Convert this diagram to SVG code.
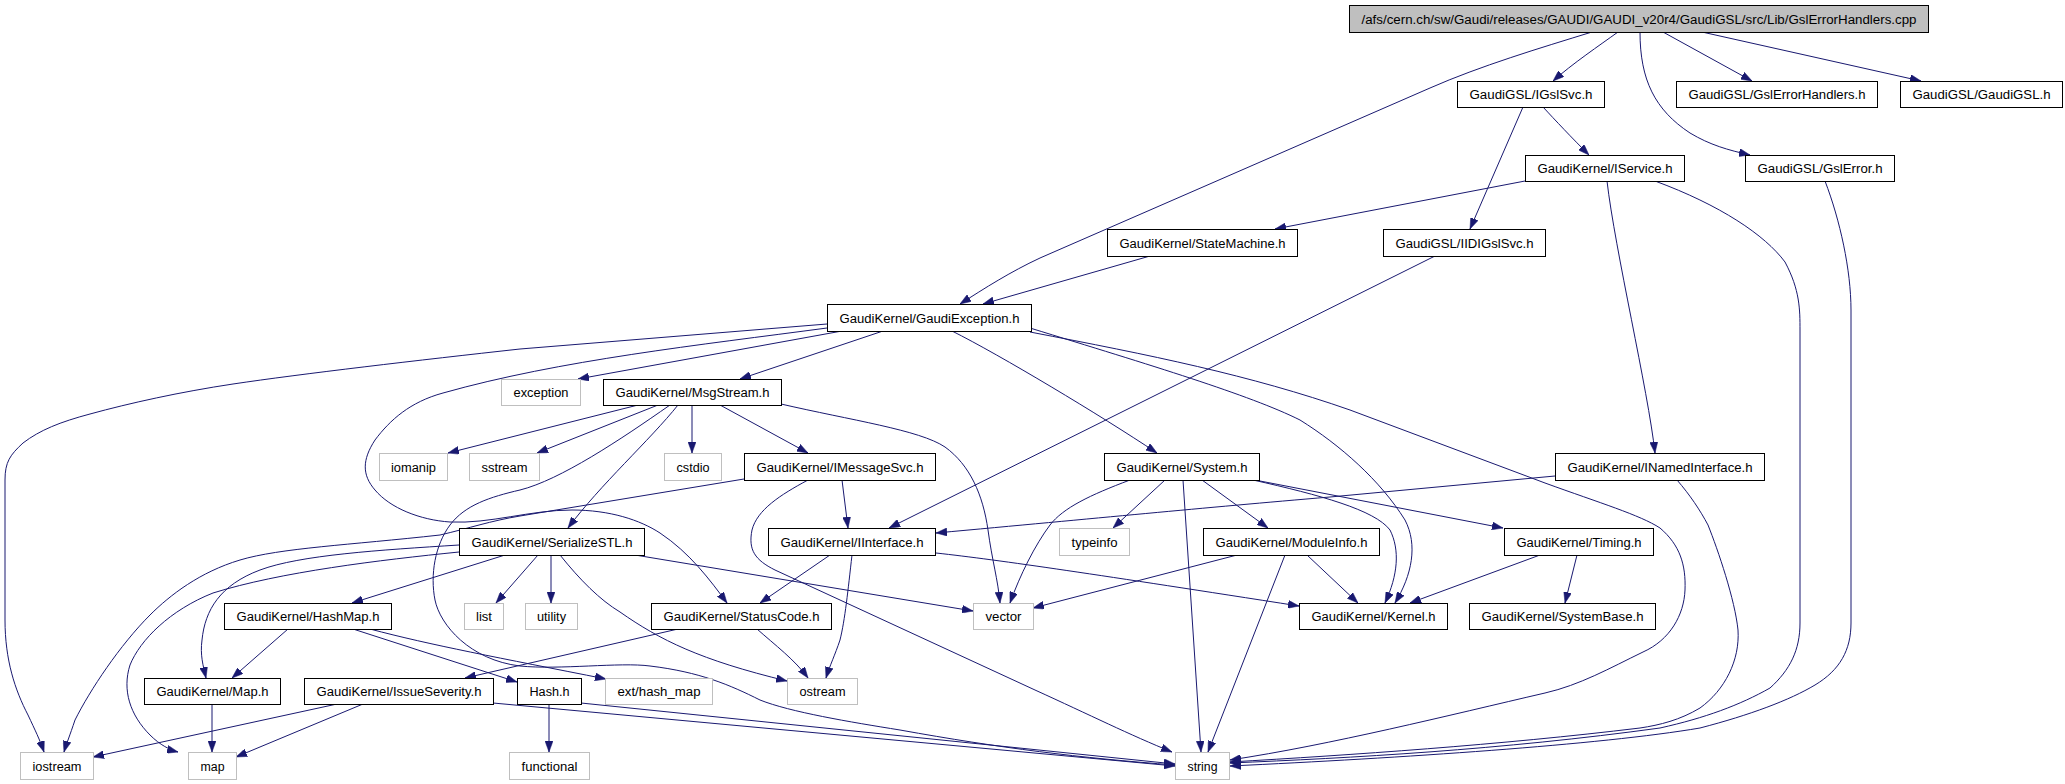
<svg xmlns="http://www.w3.org/2000/svg" width="2065" height="784" viewBox="0 0 2065 784">
<style>
.n rect{fill:#fff;stroke:#000;stroke-width:1}
.g rect{fill:#fff;stroke:#bfbfbf;stroke-width:1}
.r rect{fill:#bfbfbf;stroke:#000;stroke-width:1}
text{font-family:"Liberation Sans",Arial,sans-serif;font-size:12.5px;fill:#000;text-anchor:middle}
#edges path{fill:none;stroke:#191970;stroke-width:1;marker-end:url(#a)}
</style>
<defs>
<marker id="a" markerWidth="11" markerHeight="8" refX="11" refY="4" orient="auto" markerUnits="userSpaceOnUse"><path d="M0,0 L11,4 L0,8 z" fill="#191970" stroke="#191970" stroke-width="0.5"/></marker>
</defs>
<rect width="2065" height="784" fill="#fff"/>
<g id="edges">
<path d="M1592,32 C1540,48 1480,66 1430,88 L1040,258 C1010,272 985,288 960,304"/>
<path d="M1618,32 C1600,45 1572,64 1553,81"/>
<path d="M1663,32 L1752,81"/>
<path d="M1702,32 L1921,81"/>
<path d="M1640,32 C1640,80 1655,110 1690,133 C1710,145 1728,150 1750,155"/>
<path d="M1543,107 C1555,120 1572,138 1589,155"/>
<path d="M1523,107 L1470,229"/>
<path d="M1525,181 L1275,229"/>
<path d="M1607,181 C1615,250 1648,390 1655,453"/>
<path d="M1655,181 C1720,205 1765,235 1785,262 C1800,290 1800,310 1800,330 L1800,623 C1800,650 1790,670 1770,688 C1740,705 1705,718 1660,728 C1500,750 1350,758 1230,763"/>
<path d="M1825,181 C1840,220 1851,270 1851,310 L1851,623 C1851,650 1840,670 1815,685 C1790,700 1750,715 1700,728 C1600,745 1400,758 1230,766"/>
<path d="M1150,256 L983,304"/>
<path d="M1435,256 L889,528"/>
<path d="M827,324 L520,349 C420,360 300,374 233,384 C180,392 130,403 90,414 C60,422 40,430 23,443 C10,455 5,462 5,480 L5,620 C5,660 15,690 28,715 C35,730 40,740 44,752"/>
<path d="M827,328 C700,345 560,360 443,393 C410,402 390,420 375,440 C362,460 362,475 375,490 C390,508 420,520 450,522 C490,524 530,510 572,510 C610,510 640,520 660,533 C690,553 710,580 727,603"/>
<path d="M842,331 L578,379"/>
<path d="M883,331 L740,379"/>
<path d="M952,331 C1000,355 1100,415 1157,453"/>
<path d="M1030,328 C1150,365 1250,395 1300,420 C1340,445 1380,480 1405,520 C1418,545 1412,575 1395,603"/>
<path d="M1030,332 C1150,355 1250,375 1350,410 L1545,483 C1600,503 1640,515 1660,528 C1680,545 1686,565 1685,590 C1684,615 1670,640 1643,652 C1610,668 1580,685 1545,693 C1450,715 1330,745 1230,760"/>
<path d="M638,405 L448,453"/>
<path d="M658,405 L537,453"/>
<path d="M692,405 L692,453"/>
<path d="M720,405 L808,453"/>
<path d="M678,405 C650,440 600,485 568,528"/>
<path d="M781,404 C850,420 920,430 945,447 C970,465 983,495 988,530 C992,560 998,580 1000,603"/>
<path d="M670,405 C620,440 560,480 520,490 C490,497 465,505 450,525 C435,545 430,575 435,600 C440,625 470,660 520,666 C560,670 620,662 650,666 C700,672 730,685 760,700 C790,712 850,722 900,730 C1000,748 1080,758 1175,765"/>
<path d="M842,480 L848,528"/>
<path d="M808,480 C780,495 757,510 752,530 C748,550 755,560 775,570 L1035,690 C1090,715 1130,735 1172,752"/>
<path d="M744,479 L520,516 C490,521 470,528 440,535 C350,545 280,548 240,560 C200,572 170,595 150,615 C120,645 90,690 75,720 C70,735 66,745 64,752"/>
<path d="M1130,480 C1090,495 1063,508 1050,525 C1035,545 1020,575 1010,603"/>
<path d="M1165,480 L1113,528"/>
<path d="M1183,480 L1201,752"/>
<path d="M1202,480 L1268,528"/>
<path d="M1253,480 C1320,495 1375,510 1390,530 C1400,550 1398,575 1385,603"/>
<path d="M1260,481 L1503,528"/>
<path d="M1555,476 L1330,497 C1200,508 1100,518 936,533"/>
<path d="M1677,480 C1690,495 1700,510 1708,525 C1718,550 1735,600 1738,630 C1740,660 1725,690 1700,708 C1680,720 1660,725 1640,728 C1500,745 1350,755 1230,762"/>
<path d="M459,545 C380,550 300,555 260,570 C220,585 205,610 202,640 C200,655 203,665 206,678"/>
<path d="M459,552 C380,560 280,572 213,593 C170,610 140,640 130,665 C122,690 130,715 150,735 C160,745 170,750 178,752"/>
<path d="M505,555 L352,603"/>
<path d="M538,555 L496,603"/>
<path d="M551,555 L551,603"/>
<path d="M560,555 C580,580 600,600 620,612 C660,640 700,660 787,681"/>
<path d="M635,555 L973,611"/>
<path d="M830,555 L760,603"/>
<path d="M852,555 C848,590 845,620 840,640 C835,655 830,665 826,678"/>
<path d="M936,553 C1000,560 1100,575 1299,606"/>
<path d="M1237,555 L1033,608"/>
<path d="M1285,555 L1208,752"/>
<path d="M1307,555 L1358,603"/>
<path d="M1540,555 L1410,603"/>
<path d="M1577,555 L1565,603"/>
<path d="M288,629 L232,678"/>
<path d="M353,629 L517,682"/>
<path d="M370,629 C430,645 500,658 606,679"/>
<path d="M678,629 L465,678"/>
<path d="M757,629 C775,645 795,660 808,678"/>
<path d="M212,704 L212,752"/>
<path d="M337,704 L93,757"/>
<path d="M363,704 L236,757"/>
<path d="M493,703 L1175,766"/>
<path d="M549,704 L549,752"/>
<path d="M581,703 L1175,764"/>
</g>
<g id="n_root" class="r"><rect x="1349.5" y="5.5" width="579" height="27"/><text x="1639" y="24" textLength="555" lengthAdjust="spacingAndGlyphs">/afs/cern.ch/sw/Gaudi/releases/GAUDI/GAUDI_v20r4/GaudiGSL/src/Lib/GslErrorHandlers.cpp</text></g>
<g id="n_IGslSvc" class="n"><rect x="1457.5" y="81.5" width="147" height="26"/><text x="1531" y="99" textLength="123" lengthAdjust="spacingAndGlyphs">GaudiGSL/IGslSvc.h</text></g>
<g id="n_GslErrorHandlers" class="n"><rect x="1676.5" y="81.5" width="201" height="26"/><text x="1777" y="99" textLength="177" lengthAdjust="spacingAndGlyphs">GaudiGSL/GslErrorHandlers.h</text></g>
<g id="n_GaudiGSL" class="n"><rect x="1900.5" y="81.5" width="162" height="26"/><text x="1981.5" y="99" textLength="138" lengthAdjust="spacingAndGlyphs">GaudiGSL/GaudiGSL.h</text></g>
<g id="n_IService" class="n"><rect x="1525.5" y="155.5" width="159" height="26"/><text x="1605" y="173" textLength="135" lengthAdjust="spacingAndGlyphs">GaudiKernel/IService.h</text></g>
<g id="n_GslError" class="n"><rect x="1745.5" y="155.5" width="149" height="26"/><text x="1820" y="173" textLength="125" lengthAdjust="spacingAndGlyphs">GaudiGSL/GslError.h</text></g>
<g id="n_StateMachine" class="n"><rect x="1107.5" y="229.5" width="190" height="27"/><text x="1202.5" y="248" textLength="166" lengthAdjust="spacingAndGlyphs">GaudiKernel/StateMachine.h</text></g>
<g id="n_IIDIGslSvc" class="n"><rect x="1383.5" y="229.5" width="162" height="27"/><text x="1464.5" y="248" textLength="138" lengthAdjust="spacingAndGlyphs">GaudiGSL/IIDIGslSvc.h</text></g>
<g id="n_GaudiException" class="n"><rect x="827.5" y="304.5" width="204" height="27"/><text x="929.5" y="323" textLength="180" lengthAdjust="spacingAndGlyphs">GaudiKernel/GaudiException.h</text></g>
<g id="n_exception" class="g"><rect x="501.5" y="379.5" width="79" height="26"/><text x="541" y="397" textLength="55" lengthAdjust="spacingAndGlyphs">exception</text></g>
<g id="n_MsgStream" class="n"><rect x="603.5" y="379.5" width="178" height="26"/><text x="692.5" y="397" textLength="154" lengthAdjust="spacingAndGlyphs">GaudiKernel/MsgStream.h</text></g>
<g id="n_iomanip" class="g"><rect x="379.5" y="453.5" width="68" height="27"/><text x="413.5" y="472" textLength="45" lengthAdjust="spacingAndGlyphs">iomanip</text></g>
<g id="n_sstream" class="g"><rect x="469.5" y="453.5" width="70" height="27"/><text x="504.5" y="472" textLength="46" lengthAdjust="spacingAndGlyphs">sstream</text></g>
<g id="n_cstdio" class="g"><rect x="664.5" y="453.5" width="57" height="27"/><text x="693" y="472" textLength="33" lengthAdjust="spacingAndGlyphs">cstdio</text></g>
<g id="n_IMessageSvc" class="n"><rect x="744.5" y="453.5" width="191" height="27"/><text x="840" y="472" textLength="167" lengthAdjust="spacingAndGlyphs">GaudiKernel/IMessageSvc.h</text></g>
<g id="n_System" class="n"><rect x="1104.5" y="453.5" width="155" height="27"/><text x="1182" y="472" textLength="131" lengthAdjust="spacingAndGlyphs">GaudiKernel/System.h</text></g>
<g id="n_INamedInterface" class="n"><rect x="1555.5" y="453.5" width="209" height="27"/><text x="1660" y="472" textLength="185" lengthAdjust="spacingAndGlyphs">GaudiKernel/INamedInterface.h</text></g>
<g id="n_SerializeSTL" class="n"><rect x="459.5" y="528.5" width="185" height="27"/><text x="552" y="547" textLength="161" lengthAdjust="spacingAndGlyphs">GaudiKernel/SerializeSTL.h</text></g>
<g id="n_IInterface" class="n"><rect x="768.5" y="528.5" width="167" height="27"/><text x="852" y="547" textLength="143" lengthAdjust="spacingAndGlyphs">GaudiKernel/IInterface.h</text></g>
<g id="n_typeinfo" class="g"><rect x="1059.5" y="528.5" width="70" height="27"/><text x="1094.5" y="547" textLength="46" lengthAdjust="spacingAndGlyphs">typeinfo</text></g>
<g id="n_ModuleInfo" class="n"><rect x="1203.5" y="528.5" width="176" height="27"/><text x="1291.5" y="547" textLength="152" lengthAdjust="spacingAndGlyphs">GaudiKernel/ModuleInfo.h</text></g>
<g id="n_Timing" class="n"><rect x="1504.5" y="528.5" width="149" height="27"/><text x="1579" y="547" textLength="125" lengthAdjust="spacingAndGlyphs">GaudiKernel/Timing.h</text></g>
<g id="n_HashMap" class="n"><rect x="224.5" y="603.5" width="167" height="26"/><text x="308" y="621" textLength="143" lengthAdjust="spacingAndGlyphs">GaudiKernel/HashMap.h</text></g>
<g id="n_list" class="g"><rect x="464.5" y="603.5" width="39" height="26"/><text x="484" y="621" textLength="16" lengthAdjust="spacingAndGlyphs">list</text></g>
<g id="n_utility" class="g"><rect x="525.5" y="603.5" width="52" height="26"/><text x="551.5" y="621" textLength="29" lengthAdjust="spacingAndGlyphs">utility</text></g>
<g id="n_StatusCode" class="n"><rect x="651.5" y="603.5" width="180" height="26"/><text x="741.5" y="621" textLength="156" lengthAdjust="spacingAndGlyphs">GaudiKernel/StatusCode.h</text></g>
<g id="n_vector" class="g"><rect x="973.5" y="603.5" width="60" height="26"/><text x="1003.5" y="621" textLength="36" lengthAdjust="spacingAndGlyphs">vector</text></g>
<g id="n_Kernel" class="n"><rect x="1299.5" y="603.5" width="148" height="26"/><text x="1373.5" y="621" textLength="124" lengthAdjust="spacingAndGlyphs">GaudiKernel/Kernel.h</text></g>
<g id="n_SystemBase" class="n"><rect x="1469.5" y="603.5" width="186" height="26"/><text x="1562.5" y="621" textLength="162" lengthAdjust="spacingAndGlyphs">GaudiKernel/SystemBase.h</text></g>
<g id="n_Map" class="n"><rect x="144.5" y="678.5" width="136" height="26"/><text x="212.5" y="696" textLength="112" lengthAdjust="spacingAndGlyphs">GaudiKernel/Map.h</text></g>
<g id="n_IssueSeverity" class="n"><rect x="304.5" y="678.5" width="189" height="26"/><text x="399" y="696" textLength="165" lengthAdjust="spacingAndGlyphs">GaudiKernel/IssueSeverity.h</text></g>
<g id="n_Hash" class="n"><rect x="517.5" y="678.5" width="64" height="26"/><text x="549.5" y="696" textLength="40" lengthAdjust="spacingAndGlyphs">Hash.h</text></g>
<g id="n_ext_hash_map" class="g"><rect x="605.5" y="678.5" width="107" height="26"/><text x="659" y="696" textLength="83" lengthAdjust="spacingAndGlyphs">ext/hash_map</text></g>
<g id="n_ostream" class="g"><rect x="787.5" y="678.5" width="70" height="26"/><text x="822.5" y="696" textLength="46" lengthAdjust="spacingAndGlyphs">ostream</text></g>
<g id="n_iostream" class="g"><rect x="20.5" y="752.5" width="73" height="27"/><text x="57" y="771" textLength="49" lengthAdjust="spacingAndGlyphs">iostream</text></g>
<g id="n_map" class="g"><rect x="188.5" y="752.5" width="48" height="27"/><text x="212.5" y="771" textLength="24" lengthAdjust="spacingAndGlyphs">map</text></g>
<g id="n_functional" class="g"><rect x="509.5" y="752.5" width="80" height="27"/><text x="549.5" y="771" textLength="56" lengthAdjust="spacingAndGlyphs">functional</text></g>
<g id="n_string" class="g"><rect x="1175.5" y="752.5" width="54" height="27"/><text x="1202.5" y="771" textLength="30" lengthAdjust="spacingAndGlyphs">string</text></g>
</svg>
